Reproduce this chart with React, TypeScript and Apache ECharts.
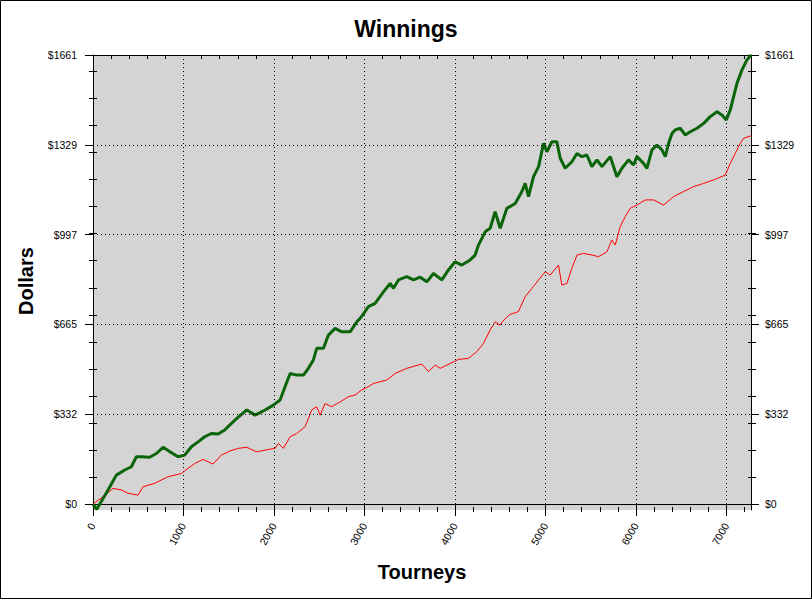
import React, { useEffect, useRef } from 'react';
import * as echarts from 'echarts';

const tourneyTicks = [0, 1000, 2000, 3000, 4000, 5000, 6000, 7000];
const tourneyMinorTicks = [
  200, 400, 600, 800, 1200, 1400, 1600, 1800, 2200, 2400, 2600, 2800, 3200, 3400, 3600, 3800,
  4200, 4400, 4600, 4800, 5200, 5400, 5600, 5800, 6200, 6400, 6600, 6800, 7200,
];
const dollarTicks = [0, 332, 665, 997, 1329, 1661];
const dollarMinorTicks = [100, 200, 300, 400, 500, 600, 700, 800, 900, 1000, 1100, 1200, 1300, 1400, 1500, 1600];
const gridDollars = [332, 665, 997, 1329];

const greenTourneys = [
  0, 40, 166, 258, 350, 424, 479, 534, 626, 700, 774, 847, 940, 1013, 1087, 1161, 1234, 1308, 1382, 1455,
  1510, 1570, 1699, 1791, 1901, 1993, 2067, 2122, 2178, 2251, 2325, 2380, 2435, 2472, 2546, 2601, 2675, 2749,
  2841, 2915, 2960, 3043, 3117, 3209, 3283, 3320, 3375, 3467, 3541, 3614, 3688, 3762, 3854, 3927, 4001, 4075,
  4167, 4222, 4259, 4333, 4388, 4443, 4499, 4573, 4665, 4739, 4775, 4812, 4867, 4923, 4978, 5015, 5070, 5125,
  5162, 5217, 5291, 5347, 5402, 5457, 5512, 5568, 5623, 5715, 5789, 5844, 5917, 5972, 6010, 6083, 6120, 6176,
  6231, 6286, 6323, 6359, 6397, 6433, 6488, 6544, 6599, 6673, 6747, 6820, 6894, 6949, 6997, 7041, 7078, 7115,
  7170, 7225, 7270,
];
const greenDollars = [
  0, -20, 52, 107, 126, 138, 175, 175, 173, 187, 210, 194, 175, 181, 212, 230, 249, 261, 259, 274,
  292, 311, 348, 329, 348, 366, 385, 434, 483, 477, 477, 502, 533, 576, 576, 625, 650, 637,
  637, 674, 690, 730, 742, 785, 816, 798, 829, 841, 829, 839, 822, 853, 829, 866, 896, 884,
  903, 921, 958, 1007, 1020, 1081, 1020, 1094, 1112, 1156, 1186, 1137, 1211, 1248, 1334, 1303, 1340, 1340,
  1279, 1242, 1266, 1297, 1285, 1291, 1248, 1273, 1248, 1285, 1211, 1242, 1273, 1254, 1285, 1260, 1242, 1310,
  1328, 1310, 1285, 1334, 1371, 1384, 1390, 1365, 1377, 1390, 1408, 1433, 1451, 1439, 1421, 1458, 1507, 1556,
  1606, 1643, 1661,
];

const redTourneys = [
  0, 110, 221, 313, 387, 497, 553, 682, 829, 976, 1050, 1124, 1216, 1326, 1418, 1510, 1606, 1699, 1809, 1938,
  2012, 2049, 2104, 2178, 2251, 2343, 2417, 2472, 2509, 2564, 2638, 2730, 2822, 2896, 2960, 3030, 3098, 3246,
  3338, 3467, 3633, 3707, 3780, 3836, 3946, 4038, 4149, 4241, 4314, 4388, 4443, 4499, 4521, 4600, 4700, 4775,
  4849, 4923, 4996, 5051, 5143, 5180, 5236, 5291, 5347, 5420, 5512, 5586, 5678, 5733, 5770, 5825, 5880, 5936,
  6010, 6102, 6194, 6304, 6414, 6525, 6636, 6746, 6857, 6986, 7041, 7096, 7151, 7188, 7270,
];
const redDollars = [
  0, 27, 58, 52, 40, 33, 64, 77, 101, 113, 132, 150, 165, 148, 181, 196, 206, 210, 193, 202,
  206, 224, 206, 249, 261, 286, 348, 360, 329, 372, 360, 378, 397, 403, 420, 432, 446, 459,
  483, 502, 518, 490, 514, 502, 520, 535, 539, 564, 594, 644, 674, 662, 674, 700, 712, 767,
  798, 829, 859, 847, 884, 810, 816, 872, 921, 927, 921, 915, 933, 977, 958, 1026, 1063, 1094,
  1106, 1125, 1125, 1106, 1137, 1156, 1174, 1186, 1199, 1217, 1260, 1297, 1334, 1353, 1362,
];

const FONT = '"Liberation Sans", Arial, sans-serif';
const BLACK = '#000000';

export default function App() {
  const ref = useRef<HTMLDivElement>(null);

  useEffect(() => {
    if (!ref.current) return;
    const chart = echarts.init(ref.current, null, { renderer: 'svg' });

    const xMin = 0;
    const xMax = 7270;
    const yMin = -22;
    const yMax = 1661;

    const option: any = {
      animation: false,
      backgroundColor: '#ffffff',
      title: {
        text: 'Winnings',
        left: 'center',
        top: 12,
        textStyle: { fontFamily: FONT, fontSize: 23, fontWeight: 'bold', color: BLACK },
      },
      grid: {
        left: 93,
        right: 61,
        top: 55,
        bottom: 89,
        show: true,
        backgroundColor: '#d4d4d4',
        borderWidth: 0,
      },
      xAxis: [
        {
          type: 'value',
          min: xMin,
          max: xMax,
          interval: 1000,
          position: 'bottom',
          axisLine: { show: true, onZero: true, lineStyle: { color: BLACK, width: 1 } },
          axisTick: { show: true, length: 12, customValues: tourneyTicks, lineStyle: { color: BLACK } },
          axisLabel: {
            customValues: tourneyTicks,
            rotate: 60,
            margin: 14,
            fontSize: 10.5,
            fontFamily: FONT,
            color: BLACK,
            formatter: (v: number) => String(v),
          },
          splitLine: { show: true, lineStyle: { color: BLACK, width: 1, type: [1, 3] } },
        },
        {
          type: 'value',
          min: xMin,
          max: xMax,
          position: 'bottom',
          offset: -3,
          axisLine: { show: false, onZero: false },
          axisTick: { show: true, length: 5, customValues: tourneyMinorTicks, lineStyle: { color: BLACK } },
          axisLabel: { show: false },
          splitLine: { show: false },
        },
        {
          type: 'value',
          min: xMin,
          max: xMax,
          position: 'top',
          axisLine: { show: true, onZero: false, lineStyle: { color: BLACK, width: 1 } },
          axisTick: { show: true, inside: true, length: 4, customValues: tourneyMinorTicks, lineStyle: { color: BLACK } },
          axisLabel: { show: false },
          splitLine: { show: false },
        },
      ],
      yAxis: [
        {
          type: 'value',
          min: yMin,
          max: yMax,
          position: 'left',
          axisLine: { show: true, onZero: false, lineStyle: { color: BLACK, width: 1 } },
          axisTick: { show: true, length: 8, customValues: dollarTicks, lineStyle: { color: BLACK } },
          axisLabel: {
            customValues: dollarTicks,
            margin: 16,
            fontSize: 10.5,
            fontFamily: FONT,
            color: BLACK,
            formatter: (v: number) => '$' + Math.round(v),
          },
          splitLine: { show: false },
        },
        {
          type: 'value',
          min: yMin,
          max: yMax,
          position: 'left',
          offset: -4,
          axisLine: { show: false, onZero: false },
          axisTick: { show: true, length: 8, customValues: dollarMinorTicks, lineStyle: { color: BLACK } },
          axisLabel: { show: false },
          splitLine: { show: false },
        },
        {
          type: 'value',
          min: yMin,
          max: yMax,
          position: 'right',
          axisLine: { show: true, onZero: false, lineStyle: { color: BLACK, width: 1 } },
          axisTick: { show: true, length: 8, customValues: dollarTicks, lineStyle: { color: BLACK } },
          axisLabel: {
            customValues: dollarTicks,
            margin: 14,
            fontSize: 10.5,
            fontFamily: FONT,
            color: BLACK,
            formatter: (v: number) => '$' + Math.round(v),
          },
          splitLine: { show: false },
        },
        {
          type: 'value',
          min: yMin,
          max: yMax,
          position: 'right',
          offset: -3,
          axisLine: { show: false, onZero: false },
          axisTick: { show: true, length: 8, customValues: dollarMinorTicks, lineStyle: { color: BLACK } },
          axisLabel: { show: false },
          splitLine: { show: false },
        },
      ],
      series: [
        {
          type: 'line',
          name: 'grid',
          xAxisIndex: 0,
          yAxisIndex: 0,
          data: [],
          z: 1,
          silent: true,
          markLine: {
            silent: true,
            symbol: ['none', 'none'],
            label: { show: false },
            lineStyle: { color: BLACK, width: 1, type: [1, 3] },
            data: gridDollars.map((v) => ({ yAxis: v })),
          },
        },
        {
          type: 'line',
          name: 'red',
          xAxisIndex: 0,
          yAxisIndex: 0,
          showSymbol: false,
          symbol: 'none',
          z: 2,
          lineStyle: { color: '#ff0000', width: 1 },
          data: redTourneys.map((t, i) => [t, redDollars[i]]),
        },
        {
          type: 'line',
          name: 'green',
          xAxisIndex: 0,
          yAxisIndex: 0,
          showSymbol: false,
          symbol: 'none',
          z: 3,
          lineStyle: { color: '#0a640a', width: 3 },
          data: greenTourneys.map((t, i) => [t, greenDollars[i]]),
        },
      ],
      graphic: [
        {
          type: 'rect',
          shape: { x: 0.5, y: 0.5, width: 811, height: 598 },
          style: { fill: 'none', stroke: BLACK, lineWidth: 1 },
          silent: true,
        },
        {
          type: 'text',
          x: 26,
          y: 281,
          rotation: Math.PI / 2,
          style: {
            text: 'Dollars',
            fontFamily: FONT,
            fontSize: 20,
            fontWeight: 'bold',
            fill: BLACK,
            textAlign: 'center',
            textVerticalAlign: 'middle',
          },
        },
        {
          type: 'text',
          x: 422,
          y: 572,
          style: {
            text: 'Tourneys',
            fontFamily: FONT,
            fontSize: 20,
            fontWeight: 'bold',
            fill: BLACK,
            textAlign: 'center',
            textVerticalAlign: 'middle',
          },
        },
      ],
    };

    chart.setOption(option);
    return () => chart.dispose();
  }, []);

  return (
    <div
      ref={ref}
      style={{ position: 'absolute', left: 0, top: 0, width: 812, height: 599, background: '#ffffff' }}
    />
  );
}
